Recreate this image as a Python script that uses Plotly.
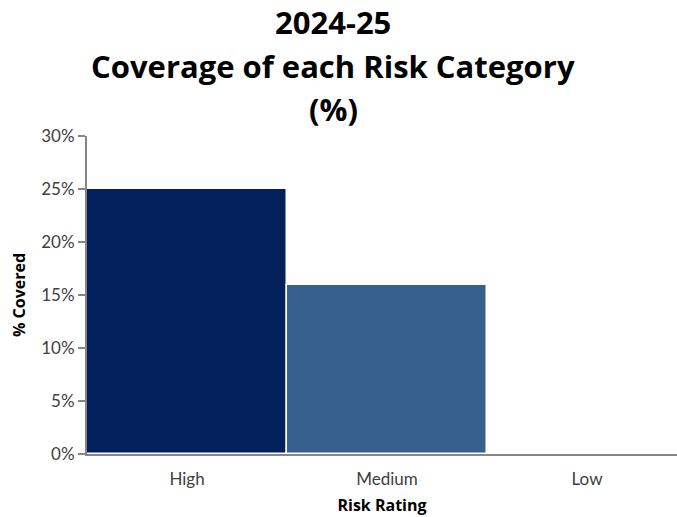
import plotly.graph_objects as go

categories = ["High", "Medium", "Low"]
coverage = [25.0, 15.9, 0.0]
bar_colors = ["#02205B", "#37608F", "#5B7FB0"]
y_ticks = [0, 5, 10, 15, 20, 25, 30]
y_tick_labels = [f"{v}%" for v in y_ticks]
title_lines = ["2024-25", "Coverage of each Risk Category", "(%)"]

fig = go.Figure()
fig.add_trace(go.Bar(
    x=categories,
    y=coverage,
    marker=dict(color=bar_colors, line=dict(color="#FFFFFF", width=1.5)),
    hoverinfo="skip",
))

# plot area: top 136px, bottom 454px -> 318 px tall
title_pixel_y = [22, 66, 109]
for line, py in zip(title_lines, title_pixel_y):
    fig.add_annotation(
        text=line, xref="paper", yref="paper",
        x=(333 - 87) / 590, y=(454 - py) / 318,
        xanchor="center", yanchor="middle", showarrow=False,
        font=dict(family="Open Sans, DejaVu Sans, sans-serif", size=31, color="#000000", weight="bold"),
    )

fig.update_layout(
    width=677, height=517,
    margin=dict(l=87, r=0, t=136, b=63),
    paper_bgcolor="white", plot_bgcolor="white",
    bargap=0,
    showlegend=False,
    font=dict(family="Lato, DejaVu Sans, sans-serif", color="#404040"),
    xaxis=dict(
        range=[-0.5, 2.45],
        showline=True, linecolor="#868686", linewidth=2,
        showgrid=False, ticks="",
        ticklabelstandoff=9,
        tickfont=dict(size=17, color="#404040"),
        title=dict(text="Risk Rating", font=dict(family="Open Sans, DejaVu Sans, sans-serif", size=16, color="#000000", weight="bold"), standoff=11),
    ),
    yaxis=dict(
        range=[0, 30],
        tickvals=y_ticks, ticktext=y_tick_labels,
        showline=True, linecolor="#868686", linewidth=2,
        showgrid=False, ticks="outside", ticklen=7, tickcolor="#868686", tickwidth=1.5,
        tickfont=dict(size=17, color="#404040"),
        title=dict(text="% Covered", font=dict(family="Open Sans, DejaVu Sans, sans-serif", size=16, color="#000000", weight="bold"), standoff=12),
        zeroline=False,
    ),
)

fig.write_html("out.html")
